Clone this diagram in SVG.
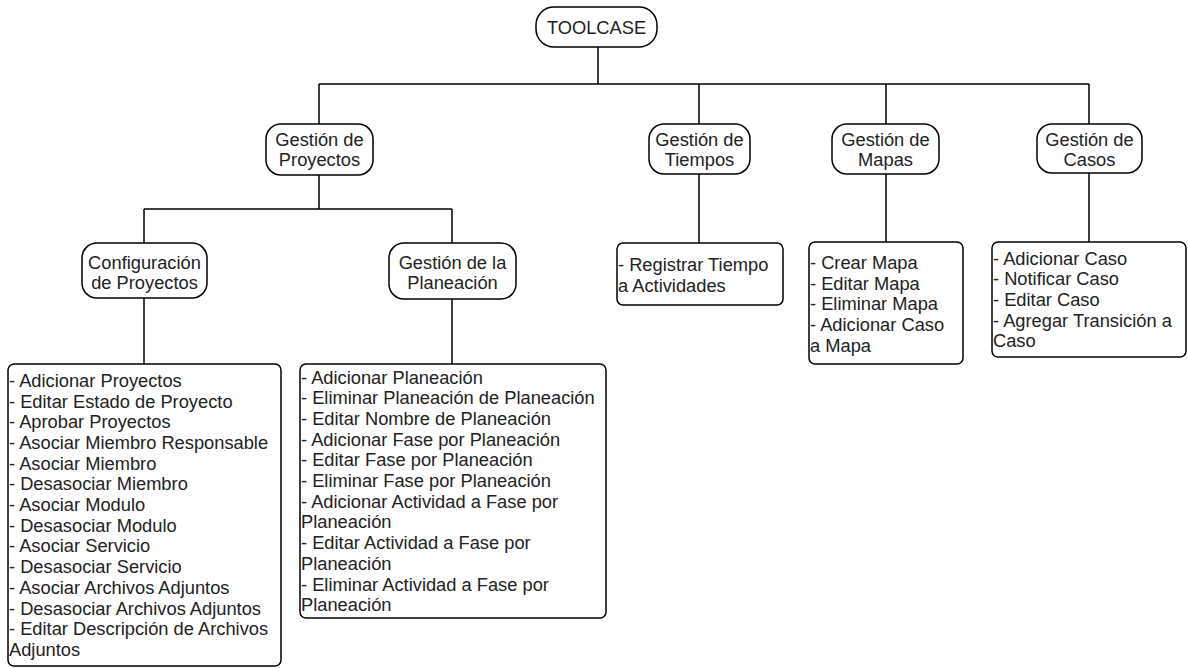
<svg xmlns="http://www.w3.org/2000/svg" width="1188" height="668" viewBox="0 0 1188 668">
<style>
.n{fill:#fff;stroke:#000;stroke-width:1.5}
.t{font-family:"Liberation Sans",Arial,sans-serif;font-size:18.3px;fill:#222}
.c{text-anchor:middle}
.e{fill:none;stroke:#000;stroke-width:1.5}
</style>
<rect width="1188" height="668" fill="#fff"/>
<g id="connectors">
<path class="e" d="M598 47V84M319 84H1089M319 84V124M699 84V124M886 84V124M1089 84V124"/>
<path class="e" d="M319 175V209M144 209H452M144 209V243M452 209V243"/>
<path class="e" d="M144 298V364M452 299V364M699 174V243M886 174V242M1089 173V242"/>
</g>
<g id="toolcase"><rect class="n" x="536" y="7" width="121" height="40" rx="18"/><text class="t c" x="596.5" y="33.5">TOOLCASE</text></g>
<g id="proyectos"><rect class="n" x="266" y="124" width="107" height="51" rx="15"/><text class="t c" x="319.5" y="146">Gestión de<tspan x="319.5" y="166">Proyectos</tspan></text></g>
<g id="tiempos"><rect class="n" x="649" y="124" width="101" height="50" rx="15"/><text class="t c" x="699.5" y="145.5">Gestión de<tspan x="699.5" y="165.5">Tiempos</tspan></text></g>
<g id="mapas"><rect class="n" x="832" y="124" width="107" height="50" rx="15"/><text class="t c" x="885.5" y="145.5">Gestión de<tspan x="885.5" y="165.5">Mapas</tspan></text></g>
<g id="casos"><rect class="n" x="1037" y="124" width="105" height="49" rx="15"/><text class="t c" x="1089.5" y="145.5">Gestión de<tspan x="1089.5" y="165.5">Casos</tspan></text></g>
<g id="configuracion"><rect class="n" x="82" y="243" width="125" height="55" rx="15"/><text class="t c" x="144.5" y="268.5">Configuración<tspan x="144.5" y="288.5">de Proyectos</tspan></text></g>
<g id="planeacion"><rect class="n" x="389" y="243" width="127" height="56" rx="15"/><text class="t c" x="452.5" y="268.5">Gestión de la<tspan x="452.5" y="288.5">Planeación</tspan></text></g>
<g id="lista-configuracion"><rect class="n" x="8" y="364" width="273" height="302" rx="6"/>
<text class="t" x="9" y="386.8">- Adicionar Proyectos<tspan x="9" dy="20.7">- Editar Estado de Proyecto</tspan><tspan x="9" dy="20.7">- Aprobar Proyectos</tspan><tspan x="9" dy="20.7">- Asociar Miembro Responsable</tspan><tspan x="9" dy="20.7">- Asociar Miembro</tspan><tspan x="9" dy="20.7">- Desasociar Miembro</tspan><tspan x="9" dy="20.7">- Asociar Modulo</tspan><tspan x="9" dy="20.7">- Desasociar Modulo</tspan><tspan x="9" dy="20.7">- Asociar Servicio</tspan><tspan x="9" dy="20.7">- Desasociar Servicio</tspan><tspan x="9" dy="20.7">- Asociar Archivos Adjuntos</tspan><tspan x="9" dy="20.7">- Desasociar Archivos Adjuntos</tspan><tspan x="9" dy="20.7">- Editar Descripción de Archivos</tspan><tspan x="9" dy="20.7">Adjuntos</tspan></text></g>
<g id="lista-planeacion"><rect class="n" x="300" y="364" width="306" height="254" rx="6"/>
<text class="t" x="301" y="383.5">- Adicionar Planeación<tspan x="301" dy="20.7">- Eliminar Planeación de Planeación</tspan><tspan x="301" dy="20.7">- Editar Nombre de Planeación</tspan><tspan x="301" dy="20.7">- Adicionar Fase por Planeación</tspan><tspan x="301" dy="20.7">- Editar Fase por Planeación</tspan><tspan x="301" dy="20.7">- Eliminar Fase por Planeación</tspan><tspan x="301" dy="20.7">- Adicionar Actividad a Fase por</tspan><tspan x="301" dy="20.7">Planeación</tspan><tspan x="301" dy="20.7">- Editar Actividad a Fase por</tspan><tspan x="301" dy="20.7">Planeación</tspan><tspan x="301" dy="20.7">- Eliminar Actividad a Fase por</tspan><tspan x="301" dy="20.7">Planeación</tspan></text></g>
<g id="lista-tiempos"><rect class="n" x="617" y="243" width="166" height="62" rx="6"/>
<text class="t" x="618" y="271">- Registrar Tiempo<tspan x="618" dy="20.7">a Actividades</tspan></text></g>
<g id="lista-mapas"><rect class="n" x="809" y="242" width="154" height="122" rx="6"/>
<text class="t" x="810" y="269">- Crear Mapa<tspan x="810" dy="20.7">- Editar Mapa</tspan><tspan x="810" dy="20.7">- Eliminar Mapa</tspan><tspan x="810" dy="20.7">- Adicionar Caso</tspan><tspan x="810" dy="20.7">a Mapa</tspan></text></g>
<g id="lista-casos"><rect class="n" x="992" y="242" width="194" height="115" rx="6"/>
<text class="t" x="993" y="264.5">- Adicionar Caso<tspan x="993" dy="20.7">- Notificar Caso</tspan><tspan x="993" dy="20.7">- Editar Caso</tspan><tspan x="993" dy="20.7">- Agregar Transición a</tspan><tspan x="993" dy="20.7">Caso</tspan></text></g>
</svg>
